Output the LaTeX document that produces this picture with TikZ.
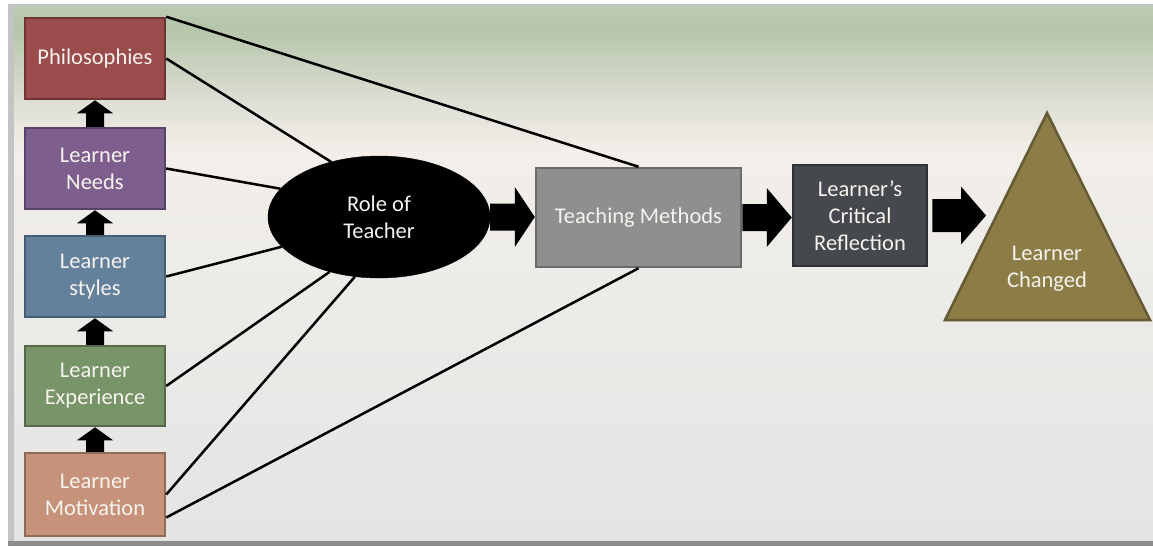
\documentclass[tikz,border=0pt]{standalone}
\usepackage{fontspec}
\setmainfont{Carlito}
\usetikzlibrary{calc,shapes.geometric}
\definecolor{txtc}{HTML}{F6F3EE}
\definecolor{philf}{HTML}{9A4B4B}\definecolor{philb}{HTML}{6E3333}
\definecolor{needf}{HTML}{7D5E8C}\definecolor{needb}{HTML}{584266}
\definecolor{stylf}{HTML}{64819C}\definecolor{stylb}{HTML}{475D72}
\definecolor{expf}{HTML}{789469}\definecolor{expb}{HTML}{56694B}
\definecolor{motf}{HTML}{C6937A}\definecolor{motb}{HTML}{8F6A58}
\definecolor{tmf}{HTML}{8F8F8F}\definecolor{tmb}{HTML}{6A6A6A}
\definecolor{lcrf}{HTML}{45484D}\definecolor{lcrb}{HTML}{2F3135}
\definecolor{trif}{HTML}{8C7D47}\definecolor{trib}{HTML}{655A33}
\definecolor{bgA}{HTML}{E4E4E3}\definecolor{bgB}{HTML}{EBEBE8}
\definecolor{bgC}{HTML}{F3EEE9}\definecolor{bgD}{HTML}{DEDFD5}
\definecolor{bgE}{HTML}{B5C5AA}\definecolor{bgF}{HTML}{BCCBB4}
\definecolor{framec}{HTML}{C4C4C4}
\pgfdeclareverticalshading{panelbg}{100bp}{color(0bp)=(bgA); color(25bp)=(bgA); color(47.5bp)=(bgB); color(61.5bp)=(bgC); color(66bp)=(bgD); color(73bp)=(bgE); color(75bp)=(bgF); color(100bp)=(bgF)}
\tikzset{
  box/.style={rectangle, line width=2.5pt, minimum width=140pt, text=txtc, align=center,
    font=\fontsize{22.5}{27}\selectfont},
  conn/.style={line width=2.5pt, black},
  % horizontal block arrow: #1 shaft width, #2 head width, #3 head length
  blockright/.style n args={3}{to path={
    let \p1=(\tikztostart), \p2=(\tikztotarget) in
    (\x1,{\y1+#1/2}) -- ({\x2-#3},{\y1+#1/2}) -- ({\x2-#3},{\y1+#2/2}) -- (\x2,\y1)
    -- ({\x2-#3},{\y1-#2/2}) -- ({\x2-#3},{\y1-#1/2}) -- (\x1,{\y1-#1/2}) -- cycle}},
  blockup/.style n args={3}{to path={
    let \p1=(\tikztostart), \p2=(\tikztotarget) in
    ({\x1-#1/2},\y1) -- ({\x1-#1/2},{\y2-#3}) -- ({\x1-#2/2},{\y2-#3}) -- (\x1,\y2)
    -- ({\x1+#2/2},{\y2-#3}) -- ({\x1+#1/2},{\y2-#3}) -- ({\x1+#1/2},\y1) -- cycle}},
}
\begin{document}
\begin{tikzpicture}[x=1pt,y=-1pt]
\useasboundingbox (0,0) rectangle (1153,546);
\fill[white] (0,0) rectangle (1153,546);
\fill[framec] (8,4) rectangle (1153,543);
\shade[shading=panelbg] (14,6) rectangle (1153,541);
\fill[gray!90] (8,541) rectangle (1153,546);

% left column
\node[box, fill=philf, draw=philb, minimum height=81pt] (phil) at (95,58.5) {Philosophies};
\node[box, fill=needf, draw=needb, minimum height=81pt] (needs) at (95,168.5) {Learner\\Needs};
\node[box, fill=stylf, draw=stylb, minimum height=81pt] (styles) at (95,276.5) {Learner\\styles};
\node[box, fill=expf, draw=expb, minimum height=80pt] (exper) at (95,386) {Learner\\Experience};
\node[box, fill=motf, draw=motb, minimum height=83pt] (motiv) at (95,494.5) {Learner\\Motivation};

% centre
\node[ellipse, fill=black, draw=black, minimum width=222pt, minimum height=122pt, text=txtc, align=center,
  font=\fontsize{22.5}{27}\selectfont] (role) at (379,217) {Role of\\Teacher};
\node[box, fill=tmf, draw=tmb, minimum width=205pt, minimum height=99pt] (tm) at (638.5,217.5) {Teaching Methods};
\node[box, fill=lcrf, draw=lcrb, minimum width=134pt, minimum height=101pt] (lcr) at (860,215.5) {Learner’s\\Critical\\Reflection};

% triangle
\filldraw[fill=trif, draw=trib, line width=2.5pt, line join=miter] (1047,113) -- (1150,320) -- (945,320) -- cycle;
\node[text=txtc, align=center, font=\fontsize{22.5}{27}\selectfont] (changed) at (1047,269) {Learner\\Changed};
\coordinate (triin) at (986,212);

% up arrows
\fill[black] (needs.north) to[blockup={18pt}{36pt}{13pt}] (phil.south);
\fill[black] (styles.north) to[blockup={18pt}{36pt}{13pt}] (needs.south);
\fill[black] (exper.north) to[blockup={18pt}{36pt}{13pt}] (styles.south);
\fill[black] (motiv.north) to[blockup={18pt}{36pt}{13pt}] (exper.south);

% connectors
\draw[conn] (phil.north east) -- (tm.north);
\draw[conn] (phil.east) -- (role.131);
\draw[conn] (needs.east) -- (role.164);
\draw[conn] (styles.east) -- (role.197);
\draw[conn] (exper.east) -- (role.228);
\draw[conn] (motiv.east) -- (role.248);
\draw[conn] ([yshift=-23pt]motiv.east) -- (tm.south);

% big arrows
\fill[black] (role.east) to[blockright={27pt}{60pt}{20pt}] (tm.west);
\fill[black] (tm.east) to[blockright={27pt}{59pt}{25pt}] (lcr.west);
\fill[black] ([xshift=4pt]lcr.east) to[blockright={33pt}{58pt}{25pt}] (triin);
\end{tikzpicture}
\end{document}
